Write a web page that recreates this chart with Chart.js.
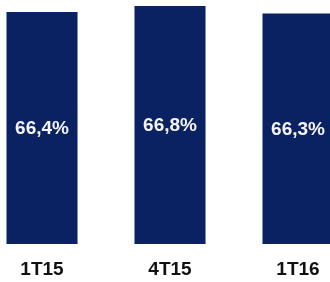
<!DOCTYPE html>
<html>
<head>
<meta charset="utf-8">
<script src="https://cdn.jsdelivr.net/npm/chart.js@4"></script>
<style>
  html, body { margin: 0; padding: 0; background: #fff; overflow: hidden; }
  #wrap { position: absolute; left: -22px; top: 0; width: 384px; height: 282px; }
</style>
</head>
<body>
<div id="wrap"><canvas id="chart"></canvas></div>
<script>
// quarters and ratio values (%)
const quarters = ['1T15', '4T15', '1T16'];
const ratios = [66.4, 66.8, 66.3];
const ratioLabels = ['66,4%', '66,8%', '66,3%'];

// draw the value text in the middle of the visible part of each bar
const barText = {
    id: 'barText',
    afterDraw: function (chart) {
        const ctx = chart.ctx;
        const yScale = chart.scales.y;
        const bottom = yScale.getPixelForValue(yScale.min);
        const meta = chart.getDatasetMeta(0);
        ctx.save();
        ctx.font = 'bold 19px Arial, sans-serif';
        ctx.fillStyle = '#f4f4f4';
        ctx.textAlign = 'center';
        ctx.textBaseline = 'middle';
        meta.data.forEach(function (bar, i) {
            ctx.fillText(ratioLabels[i], bar.x, (bar.y + bottom) / 2 + 1);
        });
        ctx.restore();
    }
};

new Chart(document.getElementById('chart'), {
    type: 'bar',
    data: {
        labels: quarters,
        datasets: [{
            data: ratios,
            backgroundColor: '#0b2262',
            barPercentage: 0.555,
            categoryPercentage: 1
        }]
    },
    options: {
        responsive: true,
        maintainAspectRatio: false,
        animation: false,
        layout: { padding: { top: 0, bottom: 1, left: 0, right: 0 } },
        plugins: { legend: { display: false }, tooltip: { enabled: false } },
        scales: {
            x: {
                grid: { display: false, drawTicks: false },
                border: { display: false },
                afterFit: function (scale) { scale.height = 37; },
                ticks: {
                    padding: 14,
                    color: '#111',
                    font: { family: 'Arial, sans-serif', size: 19, weight: 'bold' }
                }
            },
            y: {
                display: false,
                min: 51,
                max: 67.2
            }
        }
    },
    plugins: [barText]
});
</script>
</body>
</html>
